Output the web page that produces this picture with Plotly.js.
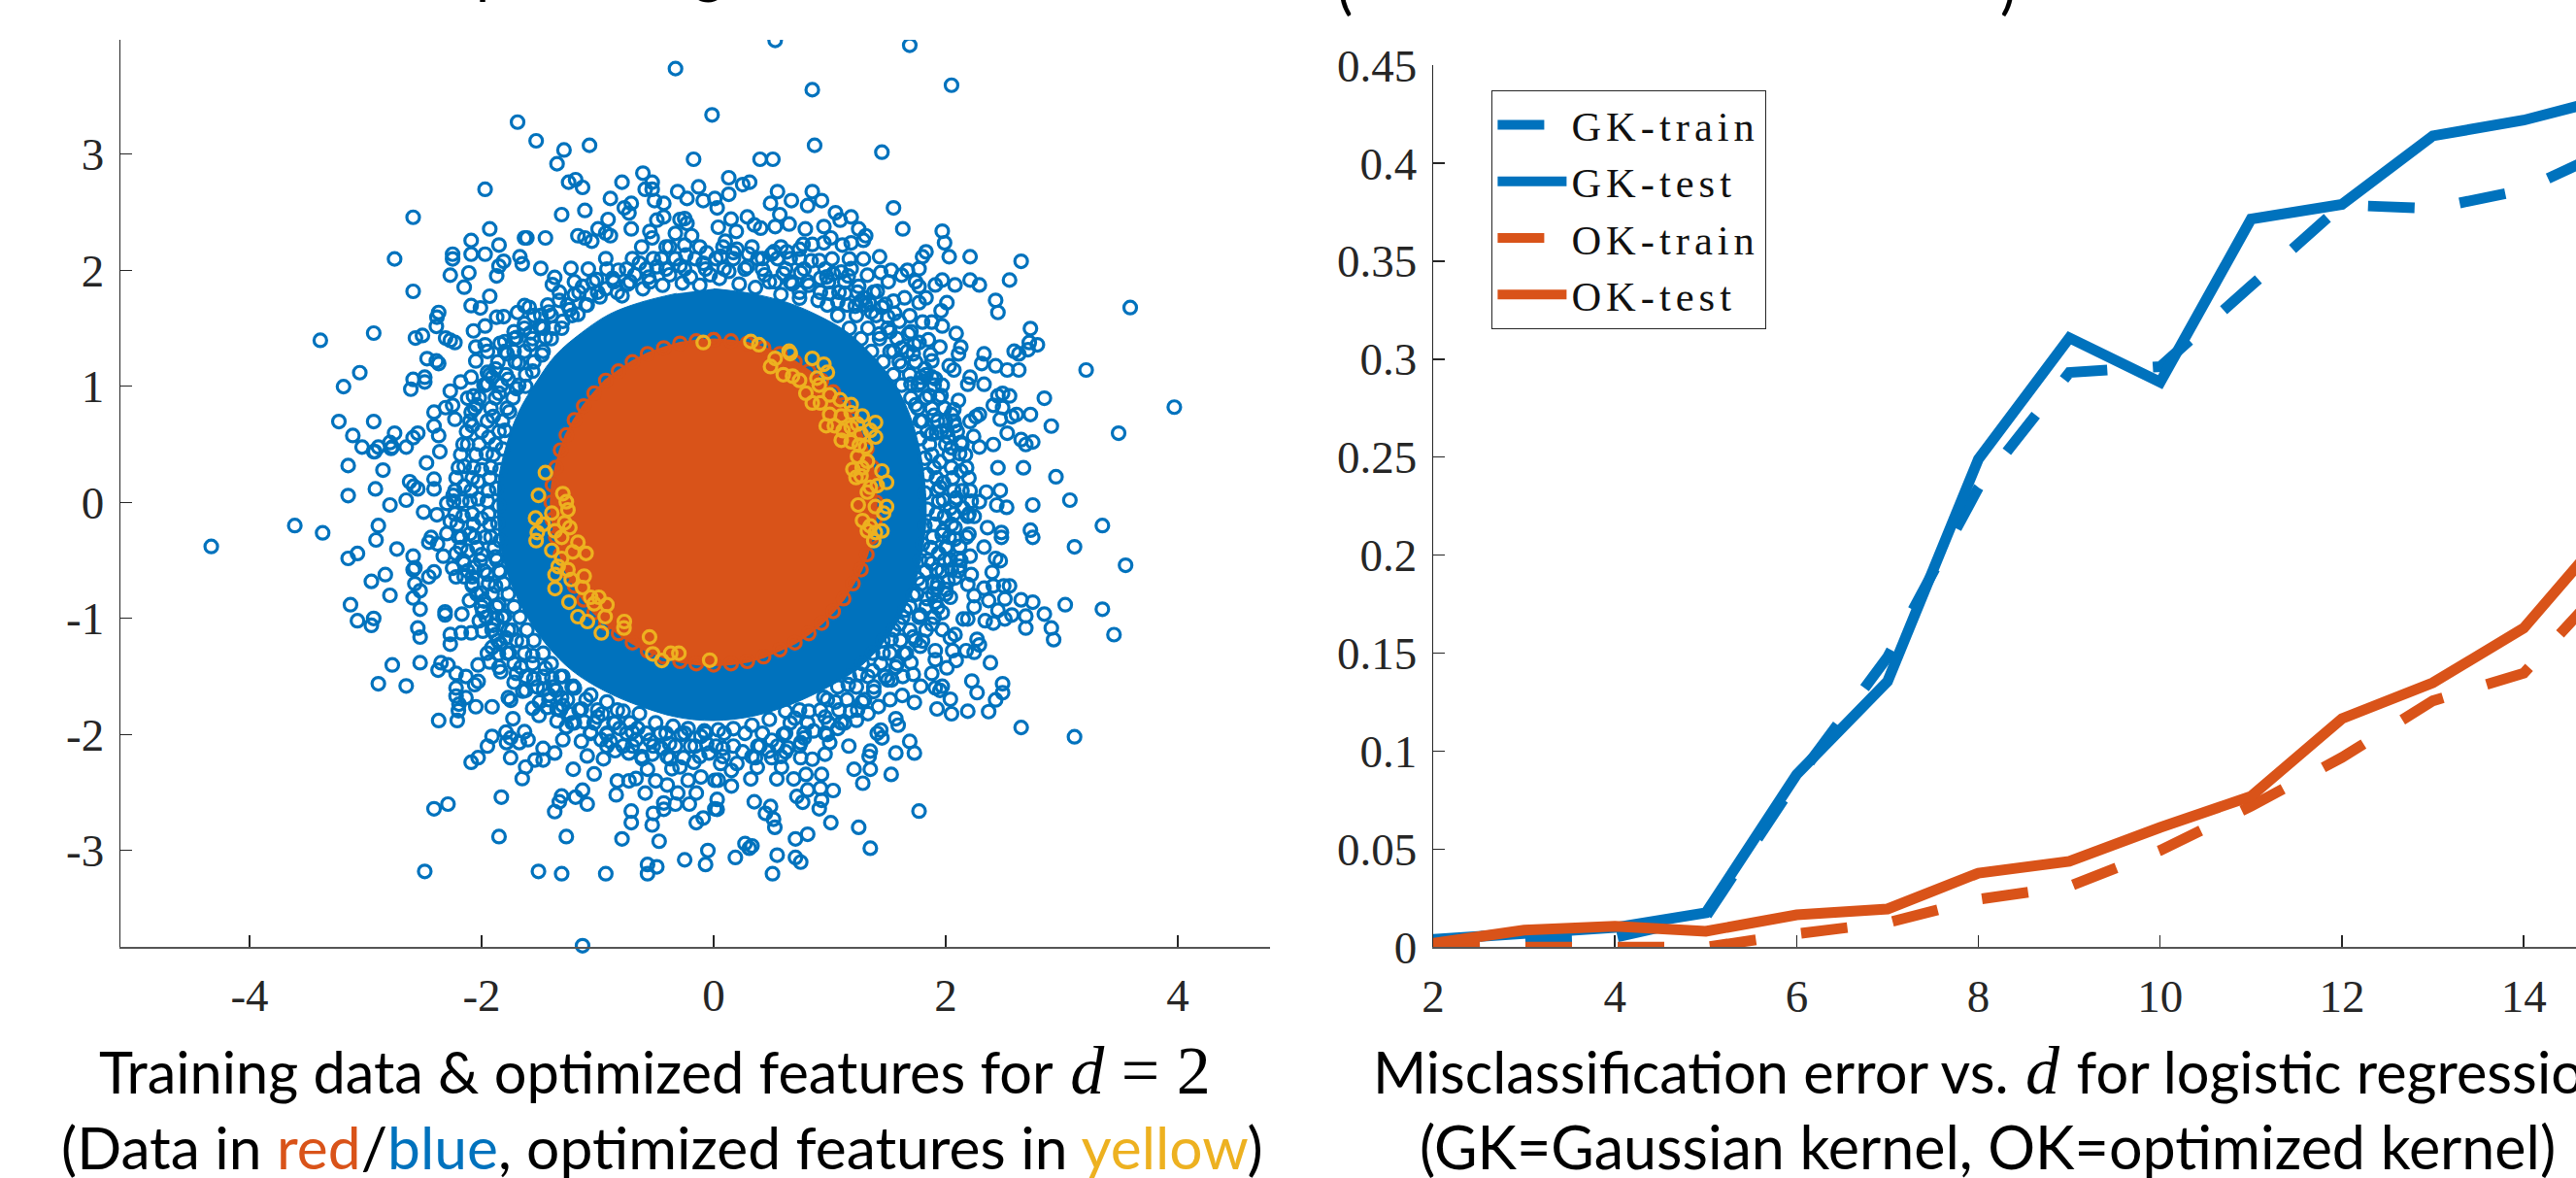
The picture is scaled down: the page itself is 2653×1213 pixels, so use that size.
<!DOCTYPE html>
<html><head><meta charset="utf-8">
<script src="https://cdn.plot.ly/plotly-3.0.1.min.js"></script>
<style>html,body{margin:0;padding:0;background:#fff;overflow:hidden}.legendtext{letter-spacing:5px}</style>
</head><body><div id="chart" style="width:2653px;height:1213px"></div>
<script>
const BLUE='#0072BD',RED='#D95319',YELLOW='#EDB120',INK='#262626';

// ---------- right panel ----------
const dVals=[2,3,4,5,6,7,8,9,10,11,12,13,14,15];
const gkTrain=[0.002,0.004,0.005,0.0155,0.0855,0.148,0.2345,0.2932,0.2962,0.3375,0.3787,0.3769,0.3865,0.408];
const gkTest=[0.004,0.0065,0.010,0.0175,0.0881,0.1356,0.2491,0.3109,0.2883,0.3715,0.379,0.414,0.422,0.434];
const okTrain=[0,0,0,0,0.0068,0.0125,0.0244,0.031,0.0494,0.072,0.0968,0.1257,0.1398,0.19];
const okTest=[0.002,0.0087,0.0107,0.0081,0.0165,0.0195,0.0378,0.0438,0.0611,0.077,0.1166,0.1349,0.1628,0.2167];
const seriesNames=['GK-train','GK-test','OK-train','OK-test'];

const xTicksLeft=[-4,-2,0,2,4], xTickTextLeft=['-4','-2','0','2','4'];
const yTicksLeft=[-3,-2,-1,0,1,2,3], yTickTextLeft=['-3','-2','-1','0','1','2','3'];
const xTicksRight=[2,4,6,8,10,12,14];
const yTicksRight=[0,0.05,0.1,0.15,0.2,0.25,0.3,0.35,0.4,0.45];
const yTickTextRight=['0','0.05','0.1','0.15','0.2','0.25','0.3','0.35','0.4','0.45'];

// ---------- left panel: points ----------
const blueCore=[[0,1.84],[.32,1.8],[.64,1.72],[.92,1.6],[1.16,1.46],[1.38,1.25],[1.54,1.05],[1.68,.78],[1.77,.48],[1.82,.16],[1.83,-.16],[1.79,-.46],[1.72,-.74],[1.6,-1.0],[1.43,-1.25],[1.22,-1.45],[.97,-1.6],[.67,-1.74],[.35,-1.84],[0,-1.88],[-.32,-1.85],[-.65,-1.75],[-.95,-1.62],[-1.22,-1.45],[-1.43,-1.24],[-1.6,-1.0],[-1.73,-.74],[-1.82,-.46],[-1.86,-.16],[-1.86,.16],[-1.79,.48],[-1.68,.78],[-1.52,1.05],[-1.36,1.27],[-1.14,1.46],[-.9,1.62],[-.64,1.72],[-.32,1.8]];

const blueUpperLeft=[[-.329,3.737],[-.014,3.338],[-1.69,3.276],[-1.53,3.115],[-1.29,3.036],[-1.07,3.076],[-1.35,2.917],[-.173,2.956],[-.61,2.836],[-.79,2.758],[-1.25,2.758],[-1.19,2.78],[-1.13,2.713],[-.53,2.758],[-.59,2.697],[-.53,2.697],[-1.97,2.697],[-.31,2.677],[-.13,2.718],[-.23,2.618],[-.09,2.6],[-.89,2.618],[-.51,2.6],[-.43,2.576],[-.71,2.576],[-.77,2.537],[-.73,2.493],[-1.11,2.515],[-1.31,2.479],[-2.59,2.456],[-.91,2.437],[-.43,2.459],[-.49,2.431],[-.29,2.437],[-.25,2.445],[-.23,2.403],[-1.93,2.356],[-.996,2.356],[-.71,2.356],[-.55,2.334],[-.33,2.317],[-.19,2.297],[-2.09,2.256],[-1.85,2.217],[-1.63,2.278],[-1.61,2.278],[-1.45,2.278],[-1.17,2.297],[-1.11,2.278],[-1.05,2.25],[-.93,2.32],[-.89,2.297],[-.53,2.278],[-.41,2.2],[-.25,2.217],[-2.25,2.138],[-2.25,2.097],[-2.09,2.138],[-1.97,2.138],[-1.67,2.116],[-1.65,2.055],[-1.81,2.077],[-1.85,2.035],[-1.87,1.951],[-2.75,2.097],[-1.49,2.016],[-1.23,2.016],[-2.11,1.977],[-2.27,1.957],[-2.15,1.854],[-2.59,1.818],[-1.37,1.938],[-1.39,1.876],[-1.93,1.776],[-2.09,1.695],[-2.01,1.675],[-1.63,1.695],[-1.59,1.68],[-2.37,1.636],[-2.385,1.595],[-2.39,1.516],[-3.39,1.396],[-2.93,1.458],[-2.57,1.416],[-2.51,1.438],[-2.31,1.416],[-2.27,1.396],[-2.23,1.377],[-2.07,1.477],[-1.97,1.519],[-1.87,1.595],[-1.81,1.6],[-1.69,1.636],[-1.63,1.54],[-1.49,1.61],[-1.72,1.47],[-1.48,1.51],[-2.05,1.338],[-1.97,1.357],[-1.95,1.3],[-1.84,1.37],[-1.8,1.385],[-1.72,1.3],[-2.47,1.238],[-2.39,1.218],[-2.37,1.196],[-2.05,1.218],[-3.05,1.117],[-3.19,.997],[-2.59,1.059],[-2.49,1.078],[-2.49,1.037],[-2.61,.975],[-2.18,1.037],[-2.09,1.078],[-2.27,.958],[-1.95,1.12],[-1.91,1.078],[-1.97,1.01],[-2.12,.897],[-2.07,.917],[-2.31,.816],[-2.25,.836],[-2.41,.777],[-2.09,.777],[-3.23,.696],[-2.93,.696],[-2.41,.657],[-2.23,.716],[-2.75,.596],[-2.55,.596],[-3.11,.576],[-2.37,.576],[-2.59,.557],[-2.79,.515],[-2.89,.476],[-3.03,.476],[-2.77,.476],[-2.65,.476],[-2.92,.437],[-2.36,.437],[-2.93,.437],[-2.78,.465]];

const blueUpperRight=[[.53,3.98],[1.69,3.938],[.85,3.555],[2.05,3.594],[.87,3.076],[1.45,3.017],[.40,2.956],[.51,2.956],[.13,2.797],[.25,2.738],[.31,2.758],[.13,2.654],[.55,2.677],[.85,2.677],[.67,2.6],[.93,2.6],[.49,2.576],[.81,2.557],[.01,2.618],[.03,2.537],[1.55,2.537],[1.05,2.495],[.29,2.459],[.15,2.44],[.57,2.479],[1.185,2.459],[1.09,2.431],[.65,2.398],[.79,2.356],[.95,2.376],[.53,2.376],[1.25,2.356],[1.63,2.356],[1.97,2.336],[.35,2.39],[.405,2.362],[.04,2.37],[.195,2.334],[1.31,2.297],[1.29,2.258],[1.99,2.236],[1.01,2.278],[1.185,2.236],[.95,2.236],[1.11,2.217],[.85,2.222],[.77,2.222],[1.83,2.158],[1.8,2.116],[2.03,2.116],[2.21,2.116],[2.65,2.077],[1.43,2.116],[1.29,2.097],[1.02,2.097],[1.17,2.097],[.63,2.158],[.74,2.18],[.50,2.138],[.91,2.083],[.17,2.152],[1.77,2.013],[1.67,1.999],[1.53,1.999],[1.44,1.98],[1.62,1.957],[1.325,1.957],[1.185,2.013],[1.10,1.985],[.975,1.943],[1.505,1.901],[1.74,1.901],[1.77,1.86],[1.91,1.873],[1.97,1.915],[2.08,1.873],[2.21,1.915],[2.29,1.873],[2.55,1.915],[2.01,1.72],[2.43,1.74],[2.45,1.636],[3.59,1.678],[1.41,1.817],[1.27,1.734],[1.55,1.734],[1.645,1.762],[1.83,1.762],[1.34,1.72],[1.48,1.706],[1.77,1.72],[1.96,1.65],[1.69,1.608],[1.56,1.628],[1.80,1.553],[1.88,1.553],[1.97,1.519],[2.09,1.455],[1.70,1.469],[1.85,1.40],[2.73,1.497],[2.72,1.377],[2.79,1.357],[2.71,1.315],[2.59,1.302],[2.63,1.279],[2.13,1.338],[2.11,1.279],[1.95,1.338],[1.77,1.377],[1.73,1.357],[2.33,1.279],[2.31,1.196],[2.43,1.176],[2.53,1.14],[2.63,1.14],[3.21,1.14],[1.87,1.274],[1.88,1.218],[2.03,1.176],[2.07,1.14],[1.79,1.078],[1.91,1.064],[2.21,1.078],[2.19,1.017],[2.33,1.017],[1.97,1.009],[2.85,.897],[2.49,.939],[2.55,.917],[2.45,.917],[2.11,.878],[2.41,.836],[2.49,.816],[3.97,.82],[2.61,.757],[2.73,.757],[2.57,.738],[2.47,.716],[2.07,.799],[2.29,.757],[2.26,.738],[2.21,.697],[2.05,.757],[2.91,.657],[3.49,.596],[2.53,.596],[2.01,.618],[2.02,.562],[2.24,.568],[2.65,.54],[2.75,.52],[2.69,.498],[2.13,.515],[2.41,.498],[2.29,.476],[1.88,.59]];

const blueLowerLeft=[[-4.33,-.38],[-3.15,.317],[-2.85,.278],[-2.475,.34],[-2.915,.116],[-3.15,.058],[-2.79,-.023],[-2.65,.019],[-2.62,.178],[-2.55,.116],[-2.585,.139],[-2.41,.2],[-2.41,.116],[-2.245,.06],[-2.30,-.009],[-2.5,-.084],[-2.385,-.107],[-3.61,-.2],[-3.37,-.263],[-2.89,-.2],[-2.91,-.324],[-2.73,-.402],[-3.07,-.441],[-3.15,-.483],[-2.59,-.464],[-2.435,-.302],[-2.455,-.344],[-2.38,-.358],[-2.3,-.269],[-2.33,-.464],[-2.27,-.163],[-2.175,-.302],[-2.22,-.441],[-2.15,-.525],[-2.83,-.623],[-2.95,-.681],[-2.79,-.801],[-2.59,-.581],[-2.575,-.564],[-2.41,-.6],[-2.455,-.642],[-2.575,-.701],[-2.53,-.762],[-2.59,-.824],[-3.13,-.882],[-2.53,-.921],[-2.93,-1.0],[-3.07,-1.02],[-2.95,-1.06],[-2.55,-1.083],[-2.53,-1.161],[-2.315,-.944],[-2.315,-.97],[-2.17,-.963],[-2.25,-.567],[-2.22,-.642],[-2.15,-.642],[-2.08,-.642],[-2.105,-.846],[-2.27,-1.139],[-2.27,-1.222],[-2.175,-1.125],[-2.09,-1.125],[-1.99,-1.11],[-1.88,-1.139],[-1.99,-.944],[-1.87,-1.0],[-1.91,-1.25],[-1.79,-1.167],[-2.77,-1.401],[-2.53,-1.382],[-2.35,-1.382],[-2.29,-1.401],[-2.375,-1.446],[-2.03,-1.401],[-1.93,-1.376],[-1.855,-1.306],[-1.835,-1.46],[-2.22,-1.474],[-2.135,-1.5],[-2.03,-1.543],[-2.06,-1.571],[-2.22,-1.599],[-2.89,-1.563],[-2.65,-1.582],[-2.22,-1.669],[-2.135,-1.683],[-2.195,-1.739],[-2.2,-1.795],[-2.05,-1.761],[-1.91,-1.761],[-2.37,-1.88],[-2.21,-1.88],[-1.77,-1.683],[-1.75,-1.705],[-1.645,-1.627],[-1.73,-1.864],[-1.70,-1.474],[-1.465,-1.613],[-1.395,-1.515],[-1.56,-1.775],[-1.505,-1.836],[-1.435,-1.767],[-1.35,-1.78],[-1.31,-1.683],[-1.24,-1.822],[-1.35,-1.884],[-1.27,-1.934],[-1.115,-1.892],[-1.21,-1.585],[-.96,-1.822],[-.81,-1.948],[-.655,-1.948],[-1.91,-2.017],[-1.95,-2.1],[-2.03,-2.2],[-2.09,-2.24],[-1.79,-1.98],[-1.75,-2.03],[-1.785,-2.07],[-1.63,-1.976],[-1.6,-2.045],[-1.675,-2.07],[-1.30,-2.045],[-1.14,-2.06],[-.97,-2.045],[-.89,-2.06],[-.67,-2.045],[-.46,-1.99],[-.28,-2.0],[-.11,-2.017],[-1.75,-2.2],[-1.47,-2.12],[-1.37,-2.16],[-1.54,-2.22],[-1.47,-2.22],[-1.62,-2.28],[-1.65,-2.38],[-1.21,-2.3],[-1.03,-2.34],[-1.09,-2.185],[-.95,-2.21],[-.85,-2.14],[-.73,-2.16],[-.615,-2.21],[-.53,-2.17],[-.375,-2.21],[-.17,-2.24],[-.04,-2.16],[-.57,-2.3],[-.29,-2.28],[-.36,-2.295],[-.83,-2.4],[-.73,-2.4],[-.67,-2.38],[-.50,-2.4],[-.40,-2.435],[-.22,-2.395],[-.11,-2.366],[.01,-2.395],[-.59,-2.505],[-.31,-2.505],[-.15,-2.505],[-.84,-2.52],[-1.13,-2.48],[-1.19,-2.54],[-1.31,-2.53],[-1.33,-2.58],[-1.09,-2.6],[-1.83,-2.54],[-2.29,-2.6],[-2.41,-2.64],[-.43,-2.59],[-.33,-2.6],[-.21,-2.6],[-.43,-2.645],[-1.37,-2.665],[-.71,-2.66],[-.71,-2.76],[-.52,-2.68],[-.53,-2.78],[-.09,-2.72],[-.15,-2.76],[.01,-2.64],[-1.85,-2.88],[-1.27,-2.88],[-.79,-2.9],[-.47,-2.92],[-.05,-3.0],[-.25,-3.08],[-.57,-3.12],[-.49,-3.14],[-.07,-3.12],[-2.49,-3.18],[-1.51,-3.18],[-1.31,-3.2],[-.93,-3.2],[-.57,-3.2]];

const blueLowerRight=[[2.45,.298],[2.67,.298],[2.95,.22],[3.07,.019],[2.75,-.023],[3.35,-.2],[3.11,-.383],[3.55,-.542],[2.73,-.24],[2.75,-.302],[2.525,-.043],[2.47,.102],[2.35,.088],[2.29,.005],[2.44,-.023],[2.09,.038],[1.95,.13],[2.04,-.051],[2.19,-.121],[2.245,-.121],[2.36,-.218],[2.48,-.26],[2.48,-.302],[2.08,-.218],[1.98,-.246],[2.08,-.316],[2.2,-.274],[2.0,-.386],[2.33,-.386],[2.21,-.464],[2.43,-.483],[2.47,-.503],[2.4,-.603],[2.04,-.497],[2.106,-.483],[1.88,-.525],[2.22,-.623],[2.08,-.651],[2.02,-.679],[2.19,-.707],[2.33,-.74],[2.41,-.72],[2.5,-.72],[2.55,-.72],[1.925,-.734],[2.245,-.804],[2.37,-.846],[2.51,-.832],[2.65,-.84],[2.75,-.86],[2.04,-.818],[1.91,-.86],[1.93,-.907],[2.245,-.902],[2.45,-.93],[3.03,-.882],[3.35,-.921],[2.85,-.963],[2.69,-.98],[2.57,-.971],[2.51,-1.005],[2.15,-1.005],[2.19,-1.005],[2.34,-1.02],[2.41,-1.04],[2.69,-1.083],[2.91,-1.083],[2.93,-1.183],[3.45,-1.14],[1.97,-1.097],[2.04,-1.167],[2.08,-1.139],[2.27,-1.18],[2.29,-1.228],[1.80,-1.195],[1.91,-1.278],[2.06,-1.278],[2.176,-1.278],[2.245,-1.292],[2.09,-1.362],[1.91,-1.356],[2.01,-1.426],[2.385,-1.382],[1.88,-1.474],[1.72,-1.482],[1.785,-1.585],[2.225,-1.54],[2.27,-1.64],[2.49,-1.563],[2.49,-1.64],[2.43,-1.702],[1.97,-1.585],[1.91,-1.599],[1.95,-1.62],[2.04,-1.697],[1.925,-1.78],[2.05,-1.822],[2.19,-1.8],[2.37,-1.803],[2.65,-1.94],[3.11,-2.02],[1.73,-1.724],[1.625,-1.664],[1.535,-1.53],[1.57,-1.864],[1.59,-1.92],[1.44,-1.962],[1.41,-1.99],[1.45,-2.03],[1.69,-2.06],[1.73,-2.16],[1.57,-2.16],[1.35,-2.143],[1.34,-2.19],[1.165,-2.1],[1.0,-2.07],[1.23,-1.878],[1.07,-1.948],[.96,-2.17],[.85,-2.213],[.75,-2.2],[.64,-2.115],[.78,-2.03],[.475,-2.143],[1.21,-2.3],[1.35,-2.3],[1.53,-2.344],[1.285,-2.42],[.93,-2.344],[.795,-2.344],[.585,-2.283],[.69,-2.383],[.544,-2.383],[.376,-2.283],[.32,-2.383],[.153,-2.31],[.153,-2.444],[.04,-2.394],[.92,-2.464],[1.03,-2.483],[.81,-2.478],[.717,-2.534],[.767,-2.584],[.93,-2.567],[.91,-2.64],[1.77,-2.66],[.35,-2.58],[.49,-2.62],[.446,-2.68],[.516,-2.73],[.527,-2.8],[.03,-2.56],[.03,-2.645],[1.01,-2.76],[1.25,-2.8],[.81,-2.86],[.705,-2.9],[1.35,-2.98],[.27,-2.94],[.33,-2.96],[.307,-2.98],[.547,-3.04],[.187,-3.06],[.705,-3.06],[.75,-3.1],[.507,-3.2]];

// dense annulus, first pass listed row by row: [y, [x, x, ...]]
const blueDenseRows=[
[2.2,[-.62,-.38,-.12,.08,.33,.58]],
[2.1,[-.93,-.7,-.52,-.33,-.16,.02,.17,.38,.55,.74]],
[2.01,[-1.08,-.92,-.75,-.58,-.41,-.25,-.07,.09,.27,.42,.62,.78,.96]],
[1.9,[-1.2,-1.04,-.86,-.72,-.55,.48,.66,.81,.99,1.13]],
[1.81,[-1.33,-1.16,-1.0,-.83,.74,.92,1.08,1.24]],
[1.7,[-1.43,-1.26,-1.1,.98,1.15,1.31]],
[1.61,[-1.55,-1.4,-1.22,1.07,1.23,1.4]],
[1.5,[-1.63,-1.47,-1.31,1.17,1.33,1.5]],
[1.41,[-1.72,-1.56,-1.4,1.27,1.43,1.58]],
[1.3,[-1.8,-1.63,-1.47,1.36,1.52,1.67]],
[1.21,[-1.86,-1.71,-1.55,1.46,1.6,1.74]],
[1.1,[-1.93,-1.79,-1.62,1.55,1.69,1.83]],
[1.01,[-1.98,-1.83,-1.68,1.62,1.76,1.9]],
[.9,[-2.02,-1.88,-1.73,1.7,1.83,1.94]],
[.81,[-2.06,-1.92,-1.78,1.76,1.88,1.99]],
[.7,[-2.1,-1.95,-1.82,1.8,1.93,2.07]],
[.61,[-2.13,-2.0,-1.85,1.84,1.96,2.1]],
[.5,[-2.16,-2.02,-1.88,1.86,2.0,2.14]],
[.41,[-2.18,-2.05,-1.9,1.88,2.03,2.17]],
[.3,[-2.2,-2.07,-1.92,1.9,2.05,2.18]],
[.21,[-2.22,-2.08,-1.93,1.92,2.06,2.2]],
[.1,[-2.23,-2.09,-1.94,1.93,2.07,2.21]],
[.01,[-2.24,-2.1,-1.95,1.94,2.08,2.22]],
[-.1,[-2.23,-2.08,-1.94,1.92,2.07,2.2]],
[-.19,[-2.21,-2.07,-1.93,1.9,2.05]],
[-.3,[-2.2,-2.06,-1.92,1.89,2.03,2.18]],
[-.39,[-2.18,-2.04,-1.89,1.87,2.01]],
[-.5,[-2.16,-2.01,-1.87,1.85,1.99,2.13]],
[-.59,[-2.12,-1.98,-1.85,1.83,1.97,2.11]],
[-.7,[-2.08,-1.94,-1.81,1.79,1.93]],
[-.79,[-2.04,-1.91,-1.77,1.75,1.89,2.0]],
[-.9,[-2.0,-1.87,-1.72,1.69,1.83]],
[-.99,[-1.96,-1.82,-1.67,1.63,1.77,1.9]],
[-1.1,[-1.91,-1.77,-1.61,1.55,1.69]],
[-1.19,[-1.86,-1.7,-1.55,1.46,1.61,1.74]],
[-1.3,[-1.78,-1.63,-1.47,1.37,1.52,1.66]],
[-1.39,[-1.72,-1.56,-1.4,1.28,1.44,1.58]],
[-1.5,[-1.62,-1.47,-1.3,1.17,1.33,1.48]],
[-1.59,[-1.52,-1.38,-1.22,1.07,1.23,1.38]],
[-1.7,[-1.42,-1.26,-1.1,.98,1.15,1.3]],
[-1.79,[-1.32,-1.16,-1.0,-.83,.74,.92,1.08,1.24]],
[-1.9,[-1.2,-1.03,-.86,-.72,.66,.81,.99,1.13]],
[-1.99,[-1.06,-.92,-.75,-.58,-.41,-.25,-.07,.09,.27,.42,.62,.78,.96]],
[-2.1,[-.92,-.7,-.52,-.33,-.16,.02,.17,.38,.55,.74]],
[-2.19,[-.62,-.4,-.12,.08,.33,.58]]
];
const blueDense=blueDenseRows.flatMap(r=>r[1].map(x=>[x,r[0]]));

const blueDenseExtra=[[-1.45,1.42],[-1.38,1.5],[-1.5,1.52],[-1.3,1.56],[-1.42,1.64],[-1.24,1.66],[-1.33,1.74],[-1.17,1.62],[-1.09,1.7],[-1.2,1.79],[-1.06,1.79],[-1.13,1.86],[-.98,1.77],[-.93,1.84],[-1.01,1.92],[-.87,1.93],[-.79,1.78],[-.74,1.88],[-.82,2.0],[-.68,1.96],[-.61,1.84],[-.56,1.94],[-.64,2.06],[-.49,2.03],[-.44,1.87],[-.38,1.96],[-.45,2.1],[-.29,2.04],[-.27,1.89],[-.2,1.94],[-.24,2.13],[-.09,2.06],[-.12,1.87],[-.03,1.96],[-.06,2.15],[.06,2.12],[.05,1.93],[.13,1.99],[.1,2.25],[.2,2.18],[.22,1.88],[.29,2.03],[.3,2.14],[.36,1.85],[.44,1.96],[.42,2.1],[.52,2.16],[.53,1.9],[.6,1.97],[.58,1.79],[.68,1.88],[.66,2.1],[.75,1.98],[.74,1.76],[.82,1.87],[.84,2.08],[.9,1.74],[.92,1.93],[1.0,1.8],[1.03,1.97],[1.07,1.73],[1.13,1.8],[1.16,1.95],[1.22,1.69],[1.25,1.86],[1.3,1.76],[1.36,1.64],[1.38,1.81],[1.45,1.68],[1.5,1.6],[1.43,1.45],[1.52,1.47],[1.6,1.56],[1.62,1.33],[1.55,1.3],[1.68,1.45],[1.72,1.28],[1.62,1.18],[1.7,1.02],[1.82,1.15],[1.78,1.03],[1.88,1.08],[1.74,.84],[1.86,.92],[1.96,.92],[1.78,.7],[1.9,.75],[2.0,.7],[2.08,.66],[1.78,.55],[1.92,.6],[2.05,.47],[1.82,.38],[1.95,.35],[2.12,.42],[1.84,.24],[1.98,.17],[2.13,.27],[1.82,.08],[1.98,.02],[2.14,.1],[1.84,-.06],[1.99,-.12],[2.15,-.05],[1.82,-.2],[1.97,-.28],[2.12,-.38],[1.8,-.36],[1.94,-.44],[2.12,-.55],[1.78,-.5],[1.92,-.58],[2.05,-.58],[1.76,-.66],[1.89,-.7],[2.0,-.75],[1.72,-.8],[1.84,-.83],[1.97,-.95],[1.65,-.93],[1.78,-.97],[1.88,-1.05],[1.6,-1.05],[1.72,-1.16],[1.83,-1.1],[1.53,-1.18],[1.64,-1.3],[1.78,-1.24],[1.46,-1.3],[1.57,-1.42],[1.7,-1.38],[1.37,-1.45],[1.5,-1.53],[1.63,-1.5],[1.26,-1.48],[1.38,-1.63],[1.52,-1.7],[1.16,-1.57],[1.28,-1.72],[1.42,-1.76],[1.05,-1.72],[1.18,-1.8],[1.33,-1.82],[.95,-1.68],[.96,-1.85],[1.1,-1.9],[.82,-1.8],[.86,-1.97],[.98,-2.0],[.7,-1.86],[.75,-2.07],[.62,-1.8],[.6,-2.0],[.62,-2.15],[.48,-1.87],[.5,-2.05],[.5,-2.2],[.33,-1.92],[.4,-2.1],[.36,-2.2],[.17,-1.95],[.25,-2.15],[.2,-2.25],[.04,-1.96],[.08,-2.12],[.06,-2.25],[-.08,-1.97],[-.06,-2.08],[-.22,-1.95],[-.2,-2.1],[-.26,-2.2],[-.35,-1.93],[-.38,-2.08],[-.45,-2.12],[-.5,-1.9],[-.55,-2.05],[-.64,-1.82],[-.7,-1.98],[-.78,-2.1],[-.78,-1.8],[-.85,-1.9],[-.92,-2.0],[-.92,-1.72],[-1.0,-1.85],[-1.06,-1.98],[-1.06,-1.66],[-1.14,-1.78],[-1.22,-1.9],[-1.2,-1.6],[-1.3,-1.75],[-1.36,-1.62],[-1.32,-1.5],[-1.42,-1.66],[-1.5,-1.72],[-1.45,-1.43],[-1.55,-1.52],[-1.62,-1.62],[-1.56,-1.32],[-1.66,-1.42],[-1.72,-1.55],[-1.65,-1.2],[-1.76,-1.3],[-1.85,-1.42],[-1.74,-1.1],[-1.84,-1.22],[-1.95,-1.3],[-1.8,-.98],[-1.9,-1.06],[-2.02,-1.02],[-1.85,-.88],[-1.98,-.85],[-1.88,-.72],[-2.0,-.78],[-2.08,-.72],[-1.84,-.6],[-1.95,-.62],[-2.06,-.56],[-1.88,-.47],[-2.0,-.45],[-2.12,-.42],[-1.84,-.33],[-1.97,-.3],[-2.1,-.27],[-1.86,-.18],[-2.0,-.14],[-2.16,-.12],[-1.85,-.03],[-2.03,.03],[-2.17,.01],[-1.87,.12],[-2.03,.18],[-2.15,.14],[-1.84,.28],[-2.0,.28],[-2.15,.31],[-1.82,.46],[-1.96,.42],[-2.12,.5],[-1.8,.62],[-1.94,.56],[-2.08,.66],[-1.76,.78],[-1.9,.74],[-2.04,.84],[-1.7,.98],[-1.85,.94],[-1.95,1.02],[-1.62,1.0],[-1.77,1.06],[-1.88,1.15],[-1.56,1.13],[-1.68,1.2],[-1.78,1.28],[-1.48,1.27],[-1.58,1.36],[-1.7,1.42],[-1.58,1.46]];

const bluePoints=[...blueUpperLeft,...blueUpperRight,...blueLowerLeft,...blueLowerRight,...blueDense,...blueDenseExtra];
const blueBottomPoint=[[-1.13,-3.82]];

const redEdge=[[0,1.40],[.15,1.39],[.29,1.37],[.43,1.33],[.57,1.28],[.70,1.21],[.82,1.13],[.93,1.05],[1.03,.95],[1.12,.84],[1.20,.72],[1.27,.59],[1.32,.46],[1.37,.30],[1.39,.16],[1.40,0],[1.39,-.15],[1.36,-.30],[1.32,-.45],[1.27,-.58],[1.20,-.70],[1.12,-.83],[1.03,-.94],[.93,-1.04],[.82,-1.13],[.70,-1.21],[.57,-1.27],[.43,-1.33],[.29,-1.37],[.15,-1.39],[0,-1.40],[-.15,-1.39],[-.29,-1.37],[-.43,-1.33],[-.57,-1.28],[-.70,-1.21],[-.82,-1.13],[-.93,-1.04],[-1.03,-.95],[-1.12,-.84],[-1.20,-.72],[-1.27,-.59],[-1.32,-.45],[-1.36,-.30],[-1.39,-.15],[-1.40,0],[-1.39,.15],[-1.36,.30],[-1.32,.45],[-1.27,.58],[-1.20,.71],[-1.12,.83],[-1.03,.94],[-.93,1.05],[-.82,1.13],[-.70,1.21],[-.57,1.28],[-.43,1.33],[-.29,1.37],[-.15,1.39],[0,1.40]];

const yellowPoints=[[-.09,1.377],[.32,1.386],[.39,1.358],[.53,1.24],[.49,1.17],[.65,1.302],[.66,1.282],[.85,1.24],[.95,1.19],[.98,1.12],[.6,1.1],[.68,1.087],[.74,1.051],[.89,1.07],[.91,1.01],[.795,.94],[.85,.856],[.92,.856],[1.0,.925],[1.09,.884],[1.185,.842],[1.0,.758],[.97,.66],[1.04,.66],[1.1,.744],[1.185,.772],[1.28,.744],[1.395,.688],[1.35,.62],[1.395,.563],[1.115,.618],[1.185,.646],[1.24,.674],[1.27,.59],[1.1,.535],[1.185,.521],[1.255,.493],[1.31,.479],[1.24,.395],[1.325,.354],[1.2,.284],[1.28,.298],[1.227,.214],[1.27,.228],[1.45,.27],[1.49,.172],[1.35,.13],[1.41,.144],[1.325,.088],[1.246,-.023],[1.394,-.037],[1.49,-.037],[1.465,-.093],[1.283,-.157],[1.35,-.204],[1.45,-.246],[1.325,-.246],[1.394,-.26],[1.38,-.33],[-1.45,.256],[-1.51,.06],[-1.3,.075],[-1.27,.005],[-1.256,-.065],[-1.395,-.093],[-1.535,-.135],[-1.47,-.19],[-1.52,-.26],[-1.53,-.33],[-1.367,-.246],[-1.284,-.176],[-1.24,-.218],[-1.31,-.302],[-1.17,-.344],[-1.10,-.44],[-1.214,-.427],[-1.395,-.414],[-1.31,-.483],[-1.34,-.553],[-1.367,-.623],[-1.367,-.743],[-1.256,-.58],[-1.116,-.636],[-1.228,-.665],[-1.13,-.734],[-1.247,-.86],[-1.17,-.985],[-1.088,-1.027],[-1.06,-.818],[-.99,-.818],[-1.03,-.874],[-.92,-.882],[-.935,-.985],[-.968,-1.125],[-.77,-1.027],[-.773,-1.083],[-.553,-1.16],[-.525,-1.306],[-.447,-1.362],[-.37,-1.3],[-.3,-1.3],[-.034,-1.36]];

const xs=p=>p.map(v=>v[0]), ys=p=>p.map(v=>v[1]);
const ring=(c)=>({symbol:'circle',size:13,color:'rgba(0,0,0,0)',line:{color:c,width:3.2}});

const traces=[
 {x:xs(blueCore),y:ys(blueCore),mode:'lines',fill:'toself',fillcolor:BLUE,line:{color:BLUE,width:1,shape:'spline'},showlegend:false,hoverinfo:'skip'},
 {x:xs(bluePoints),y:ys(bluePoints),mode:'markers',marker:ring(BLUE),showlegend:false,hoverinfo:'skip'},
 {x:xs(blueBottomPoint),y:ys(blueBottomPoint),mode:'markers',marker:ring(BLUE),cliponaxis:false,showlegend:false,hoverinfo:'skip'},
 {x:xs(redEdge),y:ys(redEdge),mode:'lines+markers',fill:'toself',fillcolor:RED,line:{color:RED,width:3},marker:ring(RED),showlegend:false,hoverinfo:'skip'},
 {x:xs(yellowPoints),y:ys(yellowPoints),mode:'markers',marker:ring(YELLOW),showlegend:false,hoverinfo:'skip'},
 {x:dVals,y:gkTrain,xaxis:'x2',yaxis:'y2',name:seriesNames[0],mode:'lines',cliponaxis:false,line:{color:BLUE,width:11,dash:'48px,47px'}},
 {x:dVals,y:gkTest,xaxis:'x2',yaxis:'y2',name:seriesNames[1],mode:'lines',cliponaxis:false,line:{color:BLUE,width:11}},
 {x:dVals,y:okTrain,xaxis:'x2',yaxis:'y2',name:seriesNames[2],mode:'lines',cliponaxis:false,line:{color:RED,width:11,dash:'48px,47px'}},
 {x:dVals,y:okTest,xaxis:'x2',yaxis:'y2',name:seriesNames[3],mode:'lines',cliponaxis:false,line:{color:RED,width:11}}
];

const W=2653,H=1213;
const serif='"Liberation Serif",serif', sans='Lato,"Open Sans",sans-serif';
const tickFont={family:serif,size:47,color:INK};
const axisBase={showgrid:false,zeroline:false,showline:true,ticks:'inside',ticklen:12,tickwidth:1.4,tickcolor:INK,tickfont:tickFont,tickmode:'array',automargin:false};
const xBase={...axisBase,linecolor:'#555',linewidth:2,ticklabelstandoff:8};
const yBase={...axisBase,linecolor:INK,linewidth:1.4,ticklabelstandoff:6};

const dMath='<span style="font-family:Liberation Serif;font-size:70px">&nbsp;<i>d</i> = 2</span>';
const dOnly='<span style="font-family:Liberation Serif;font-size:70px">&nbsp;<i>d</i>&nbsp;</span>';
function note(text,cx,py,size,anchor){return {text,xref:'paper',yref:'paper',x:cx/W,y:1-py/H,xanchor:anchor||'center',yanchor:'middle',showarrow:false,font:{family:sans,size:size,color:'#000'}};}

const layout={
 width:W,height:H,margin:{l:0,r:0,t:0,b:0},paper_bgcolor:'#fff',plot_bgcolor:'rgba(0,0,0,0)',showlegend:true,
 xaxis:{...xBase,domain:[124/W,1308/W],range:[-5.113,4.795],tickvals:xTicksLeft,ticktext:xTickTextLeft,anchor:'y'},
 yaxis:{...yBase,domain:[1-975/H,1-41/H],range:[-3.83,3.985],tickvals:yTicksLeft,ticktext:yTickTextLeft,anchor:'x'},
 xaxis2:{...xBase,domain:[1476/W,1],range:[2,14.575],tickvals:xTicksRight,ticktext:xTicksRight.map(String),anchor:'y2'},
 yaxis2:{...yBase,domain:[1-975.3/H,1-67.2/H],range:[0,0.45],tickvals:yTicksRight,ticktext:yTickTextRight,anchor:'x2'},
 legend:{x:1536/W,y:1-93/H,xanchor:'left',yanchor:'top',bgcolor:'#fff',bordercolor:INK,borderwidth:1.4,font:{family:serif,size:42.5,color:'#111'},itemwidth:71,entrywidth:223,entrywidthmode:'pixels',traceorder:'normal',tracegroupgap:0,itemclick:false,itemdoubleclick:false},
 annotations:[
  note('Training data &amp; optimized features for'+dMath,100,1102,59.5,'left'),
  note('(Data in <span style="color:'+RED+'">red</span>/<span style="color:'+BLUE+'">blue</span>, optimized features in <span style="color:'+YELLOW+'">yellow</span>)',682,1180,60.5),
  note('Misclassification error vs.'+dOnly+'for logistic regression',1412,1102,59.5,'left'),
  note('(GK=Gaussian kernel, OK=optimized kernel)',2047,1180,61),
  note('p',507,-33,61),note('g',730,-33,61),
  note('(',1385,-15,61),note(')',2068,-15,61)
 ]
};
Plotly.newPlot('chart',traces,layout,{staticPlot:true,displayModeBar:false});
</script></body></html>
